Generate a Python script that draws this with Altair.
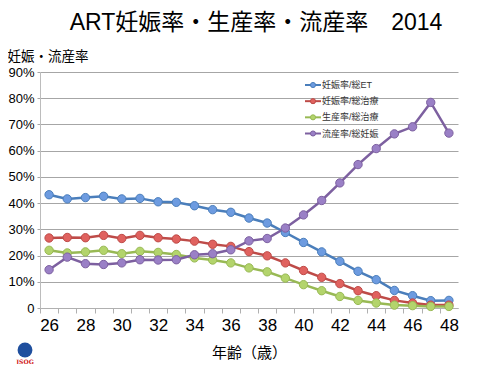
import altair as alt
import pandas as pd

# ---- data ----
ages = list(range(26, 49))
series_names = ["妊娠率/総ET", "妊娠率/総治療", "生産率/総治療", "流産率/総妊娠"]
pregnancy_per_et = [43.2, 41.6, 42.1, 42.6, 41.6, 41.8, 40.5, 40.3, 39.0, 37.5, 36.5, 34.3,
                    32.4, 28.8, 25.0, 21.4, 17.8, 14.0, 10.8, 6.7, 4.7, 2.8, 2.9]
pregnancy_per_cycle = [26.7, 26.9, 26.8, 27.7, 26.5, 27.7, 26.8, 26.3, 25.5, 24.3, 23.5, 21.5,
                       19.9, 17.2, 14.3, 11.7, 9.3, 6.6, 4.7, 2.9, 1.9, 1.1, 1.1]
live_birth_per_cycle = [22.0, 21.0, 21.4, 22.0, 20.7, 21.6, 21.2, 20.4, 19.1, 18.3, 17.2, 15.3,
                        13.8, 11.4, 8.9, 6.6, 4.4, 2.9, 1.9, 1.1, 0.9, 0.6, 0.6]
miscarriage_per_preg = [14.6, 19.4, 16.9, 16.6, 17.2, 18.4, 18.3, 18.4, 20.3, 20.7, 22.2, 25.6,
                        26.5, 30.5, 35.5, 41.0, 47.7, 54.7, 60.8, 66.4, 69.1, 78.4, 66.7]
y_ticks = list(range(0, 91, 10))

line_colors = ["#4a7ebb", "#be4b48", "#98b954", "#7d60a0"]
marker_fills = ["#6d9be0", "#e0625f", "#b3d46c", "#9a80c6"]

rows = []
for name, vals in zip(series_names, [pregnancy_per_et, pregnancy_per_cycle,
                                     live_birth_per_cycle, miscarriage_per_preg]):
    for a, v in zip(ages, vals):
        rows.append({"age": a, "series": name, "rate": v})
df = pd.DataFrame(rows)
legend_df = pd.DataFrame({"series": series_names})

FONT = "Liberation Sans, Helvetica, Arial, Noto Sans CJK JP, sans-serif"
W, H = 418, 236
half_band = W / len(ages) / 2

x_enc = alt.X(
    "age:Q",
    scale=alt.Scale(domain=[ages[0] - 0.5, ages[-1] + 0.5], nice=False, zero=False),
    axis=alt.Axis(
        values=ages + [ages[-1] + 1],
        tickOffset=-half_band,
        labelOffset=half_band,
        labelExpr="datum.value % 2 == 0 && datum.value <= 48 ? datum.label : ''",
        labelOverlap=False,
        labelFlush=False,
        grid=False,
        ticks=True,
        tickSize=5,
        tickColor="#b0b0b0",
        domainColor="#b0b0b0",
        labelFont=FONT,
        labelFontSize=17,
        labelColor="#000",
        labelPadding=4,
        title="年齢（歳）",
        titleFont=FONT,
        titleFontSize=15,
        titleFontWeight="normal",
        titleColor="#000",
        titleY=44,
        titleBaseline="middle",
    ),
)

y_enc = alt.Y(
    "rate:Q",
    scale=alt.Scale(domain=[0, 90], nice=False),
    axis=alt.Axis(
        values=y_ticks,
        labelExpr="datum.value == 0 ? '0' : datum.value + '%'",
        grid=True,
        gridColor="#a6a6a6",
        gridWidth=1,
        ticks=True,
        tickSize=3,
        tickColor="#a6a6a6",
        domainColor="#bcbcbc",
        labelFont=FONT,
        labelFontSize=13,
        labelColor="#000",
        labelPadding=3,
        title="妊娠・流産率",
        titleFont=FONT,
        titleFontSize=13.5,
        titleFontWeight="normal",
        titleColor="#000",
        titleAngle=0,
        titleAlign="left",
        titleBaseline="middle",
        titleX=-33,
        titleY=-16,
    ),
)

color_scale = alt.Scale(domain=series_names, range=line_colors)
fill_scale = alt.Scale(domain=series_names, range=marker_fills)

base = alt.Chart(df)

lines = base.mark_line(strokeWidth=2.5).encode(
    x=x_enc,
    y=y_enc,
    color=alt.Color("series:N", scale=color_scale, legend=None),
    detail="series:N",
)

points = base.mark_point(filled=True, size=70, opacity=1, strokeWidth=1).encode(
    x=x_enc,
    y=y_enc,
    fill=alt.Fill("series:N", scale=fill_scale, legend=None),
    stroke=alt.Stroke("series:N", scale=color_scale, legend=None),
)

data_layer = alt.layer(lines, points)

# ---- legend drawn inside the plot, like the original ----
leg_y = alt.Y("series:N", scale=alt.Scale(domain=series_names, type="point", range=[13, 61.5], padding=0), axis=None)
leg_base = alt.Chart(legend_df)
leg_line = leg_base.mark_rule(strokeWidth=2).encode(
    x=alt.value(265), x2=alt.value(281), y=leg_y,
    color=alt.Color("series:N", scale=color_scale, legend=None),
)
leg_point = leg_base.mark_point(filled=True, size=26, opacity=1, strokeWidth=1).encode(
    x=alt.value(273), y=leg_y,
    fill=alt.Fill("series:N", scale=fill_scale, legend=None),
    stroke=alt.Stroke("series:N", scale=color_scale, legend=None),
)
leg_text = leg_base.mark_text(align="left", baseline="middle", fontSize=9, font=FONT, color="#333").encode(
    x=alt.value(282), y=leg_y, text="series:N"
)
legend_layer = alt.layer(leg_line, leg_point, leg_text)

logo_df = pd.DataFrame({"name": ["JSOG"]})
logo_circle = alt.Chart(logo_df).mark_circle(size=220, opacity=1, color="#1f4f9e").encode(
    x=alt.value(-15), y=alt.value(278)
)
logo_text = alt.Chart(logo_df).mark_text(
    fontSize=6, fontWeight="bold", color="#d02020", font="DejaVu Serif"
).encode(x=alt.value(-15), y=alt.value(290), text="name:N")

chart = (
    alt.layer(data_layer, legend_layer, logo_circle, logo_text)
    .resolve_scale(y="independent")
    .properties(
        width=W,
        height=H,
        autosize=alt.AutoSizeParams(type="none"),
        padding={"left": 32, "top": 64, "right": 30, "bottom": 56},
        title=alt.TitleParams(
            "ART妊娠率・生産率・流産率　2014",
            font=FONT,
            fontSize=23,
            fontWeight="normal",
            color="#000",
            anchor="middle",
            baseline="alphabetic",
            offset=14,
            dx=7,
            dy=18,
        ),
        background="white",
    )
    .configure_view(stroke=None)
)

chart.save("out.html", embed_options={"renderer": "svg", "actions": False})
